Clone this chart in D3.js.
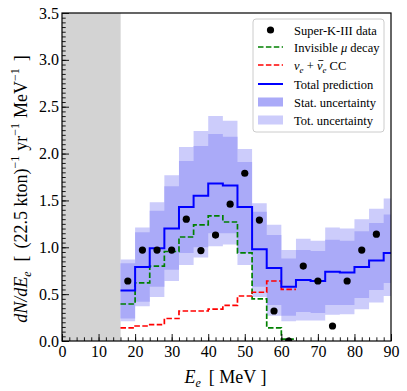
<!DOCTYPE html>
<html>
<head>
<meta charset="utf-8">
<script src="https://cdn.jsdelivr.net/npm/d3@7"></script>
<style>
  body { margin: 0; background: #fff; }
  svg text { font-family: "Liberation Serif", "DejaVu Serif", serif; }
</style>
</head>
<body>
<svg id="chart" width="407" height="391"></svg>
<script>
// Bin edges in MeV (4 MeV bins, last one runs past the axis limit)
const binEdges = [16, 20, 24, 28, 32, 36, 40, 44, 48, 52, 56, 60, 64, 68, 72, 76, 80, 84, 88, 92];

const totalPred = [0.54, 0.79, 0.99, 1.20, 1.43, 1.55, 1.68, 1.66, 1.43, 0.98, 0.78, 0.58, 0.65, 0.64, 0.74, 0.73, 0.79, 0.86, 0.94];
const statHi = [0.83, 1.16, 1.39, 1.65, 1.92, 2.08, 2.21, 2.18, 1.91, 1.38, 1.13, 0.88, 0.97, 0.96, 1.08, 1.07, 1.17, 1.26, 1.35];
const statLo = [0.24, 0.42, 0.58, 0.76, 0.94, 1.00, 1.15, 1.15, 0.94, 0.58, 0.385, 0.27, 0.31, 0.30, 0.385, 0.385, 0.46, 0.545, 0.62];
const totHi = [0.87, 1.21, 1.48, 1.77, 2.07, 2.24, 2.40, 2.35, 2.05, 1.47, 1.24, 0.97, 1.09, 1.07, 1.21, 1.20, 1.30, 1.41, 1.52];
const totLo = [0.21, 0.37, 0.47, 0.64, 0.81, 0.89, 1.01, 1.03, 0.81, 0.47, 0.27, 0.21, 0.22, 0.22, 0.28, 0.285, 0.34, 0.41, 0.48];

// components (bins from 16 to 64)
const muDecay = [0.395, 0.62, 0.80, 0.955, 1.11, 1.24, 1.335, 1.27, 0.94, 0.45, 0.14, 0.02];
const nueCC = [0.14, 0.16, 0.175, 0.24, 0.32, 0.32, 0.34, 0.38, 0.48, 0.52, 0.64, 0.55];

// Super-K-III data at bin centres
const dataE = [18, 22, 26, 30, 34, 38, 42, 46, 50, 54, 58, 62, 66, 70, 74, 78, 82, 86];
const dataN = [0.64, 0.97, 0.97, 0.97, 1.30, 0.965, 1.13, 1.46, 1.79, 1.29, 0.32, 0.0, 0.80, 0.64, 0.16, 0.64, 0.97, 1.14];

const cutE = 16;
const xTicks = [0, 10, 20, 30, 40, 50, 60, 70, 80, 90];
const yTicks = [0, 0.5, 1.0, 1.5, 2.0, 2.5, 3.0, 3.5];

const width = 407, height = 391;
const margin = { top: 13, right: 16, bottom: 50, left: 62 };
const iw = width - margin.left - margin.right;
const ih = height - margin.top - margin.bottom;

const colors = {
  stat: "#aaaaf8",
  tot: "#ccccfb",
  total: "#0000ff",
  mu: "#008000",
  cc: "#ff0000",
  veto: "#d3d3d3",
};

const svg = d3.select("#chart");
const g = svg.append("g").attr("transform", `translate(${margin.left},${margin.top})`);

const x = d3.scaleLinear().domain([0, 90]).range([0, iw]);
const y = d3.scaleLinear().domain([0, 3.5]).range([ih, 0]);

svg.append("defs").append("clipPath").attr("id", "plotClip")
  .append("rect").attr("width", iw).attr("height", ih);

const plot = g.append("g").attr("clip-path", "url(#plotClip)");

// excluded low-energy region
plot.append("rect")
  .attr("x", x(0)).attr("y", 0)
  .attr("width", x(cutE) - x(0)).attr("height", ih)
  .attr("fill", colors.veto);
plot.append("line")
  .attr("x1", x(cutE)).attr("x2", x(cutE)).attr("y1", 0).attr("y2", ih)
  .attr("stroke", "#e2e2e2").attr("stroke-width", 1);

// step helpers
function stepPoints(vals) {
  const pts = vals.map((v, i) => [binEdges[i], v]);
  pts.push([binEdges[vals.length], vals[vals.length - 1]]);
  return pts;
}
const stepLine = d3.line().x(d => x(d[0])).y(d => y(d[1])).curve(d3.curveStepAfter);
function bandPoints(lo, hi) {
  return lo.map((v, i) => ({ e: binEdges[i], lo: v, hi: hi[i] }))
    .concat([{ e: binEdges[lo.length], lo: lo[lo.length - 1], hi: hi[hi.length - 1] }]);
}
const stepArea = d3.area().x(d => x(d.e)).y0(d => y(d.lo)).y1(d => y(d.hi)).curve(d3.curveStepAfter);

plot.append("path").attr("d", stepArea(bandPoints(totLo, totHi))).attr("fill", colors.tot);
plot.append("path").attr("d", stepArea(bandPoints(statLo, statHi))).attr("fill", colors.stat);

plot.append("path").attr("d", stepLine(stepPoints(muDecay)))
  .attr("fill", "none").attr("stroke", colors.mu).attr("stroke-width", 1.7)
  .attr("stroke-dasharray", "5.5,2.4");
plot.append("path").attr("d", stepLine(stepPoints(nueCC)))
  .attr("fill", "none").attr("stroke", colors.cc).attr("stroke-width", 1.7)
  .attr("stroke-dasharray", "5.5,2.4");
plot.append("path").attr("d", stepLine(stepPoints(totalPred)))
  .attr("fill", "none").attr("stroke", colors.total).attr("stroke-width", 2);

plot.selectAll("circle.data")
  .data(dataE.map((e, i) => [e, dataN[i]]))
  .enter().append("circle")
  .attr("class", "data")
  .attr("cx", d => x(d[0])).attr("cy", d => y(d[1]))
  .attr("r", 3.6).attr("fill", "#000");

// axes (ticks pointing inward)
g.append("g").attr("transform", `translate(0,${ih})`)
  .call(d3.axisBottom(x).tickValues(xTicks).tickFormat(d3.format("d")).tickSize(-7).tickPadding(5));
g.append("g").attr("transform", `translate(0,${ih})`)
  .call(d3.axisBottom(x).tickValues(d3.range(0, 91, 2)).tickFormat("").tickSize(-3.7));

g.append("g")
  .call(d3.axisLeft(y).tickValues(yTicks).tickFormat(d3.format(".1f")).tickSize(-7).tickPadding(3));
g.append("g")
  .call(d3.axisLeft(y).tickValues(d3.range(0, 70).map(i => i * 0.05)).tickFormat("").tickSize(-3.7));

g.selectAll(".domain").remove();
g.selectAll(".tick line").attr("stroke", "#000").attr("stroke-width", 0.9);
g.selectAll(".tick text").attr("font-size", 16).attr("fill", "#000")
  .style("font-family", '"Liberation Serif", serif');

// frame
g.append("rect").attr("width", iw).attr("height", ih)
  .attr("fill", "none").attr("stroke", "#000").attr("stroke-width", 1.2);

// axis labels
const xl = svg.append("text")
  .attr("x", margin.left + iw / 2 - 1).attr("y", 383)
  .attr("text-anchor", "middle").attr("font-size", 18);
xl.append("tspan").attr("font-style", "italic").text("E");
xl.append("tspan").attr("font-style", "italic").attr("font-size", 12).attr("dy", 4).text("e");
xl.append("tspan").attr("dy", -4).attr("dx", 8).text("[ MeV ]");

const yl = svg.append("text")
  .attr("transform", `translate(27,${margin.top + 176}) rotate(-90)`)
  .attr("text-anchor", "middle").attr("font-size", 18);
yl.append("tspan").attr("font-style", "italic").text("dN/dE");
yl.append("tspan").attr("font-style", "italic").attr("font-size", 12).attr("dy", 4).text("e");
yl.append("tspan").attr("dy", -4).attr("dx", 10).text("[");
yl.append("tspan").attr("dx", 7).text("(22.5 kton)");
yl.append("tspan").attr("font-size", 12).attr("dy", -8).text("−1");
yl.append("tspan").attr("dy", 8).attr("dx", 5).text("yr");
yl.append("tspan").attr("font-size", 12).attr("dy", -8).text("−1");
yl.append("tspan").attr("dy", 8).attr("dx", 5).text("MeV");
yl.append("tspan").attr("font-size", 12).attr("dy", -8).text("−1");
yl.append("tspan").attr("dy", 8).attr("dx", 7).text("]");

// legend
const legend = svg.append("g").attr("transform", "translate(253,19)");
legend.append("rect").attr("width", 131).attr("height", 113).attr("rx", 3)
  .attr("fill", "#fff").attr("fill-opacity", 0.85)
  .attr("stroke", "#cccccc").attr("stroke-width", 1);

const rowY = [11, 28, 46, 65, 83, 101];
const hx0 = 5, hx1 = 30, tx = 41;
const fs = 12.5;

legend.append("circle").attr("cx", (hx0 + hx1) / 2).attr("cy", rowY[0]).attr("r", 3.6).attr("fill", "#000");
legend.append("line").attr("x1", hx0).attr("x2", hx1).attr("y1", rowY[1]).attr("y2", rowY[1])
  .attr("stroke", colors.mu).attr("stroke-width", 1.7).attr("stroke-dasharray", "5.5,2.4");
legend.append("line").attr("x1", hx0).attr("x2", hx1).attr("y1", rowY[2]).attr("y2", rowY[2])
  .attr("stroke", colors.cc).attr("stroke-width", 1.7).attr("stroke-dasharray", "5.5,2.4");
legend.append("line").attr("x1", hx0).attr("x2", hx1).attr("y1", rowY[3]).attr("y2", rowY[3])
  .attr("stroke", colors.total).attr("stroke-width", 2);
legend.append("rect").attr("x", hx0).attr("y", rowY[4] - 4.5).attr("width", hx1 - hx0).attr("height", 9)
  .attr("fill", colors.stat);
legend.append("rect").attr("x", hx0).attr("y", rowY[5] - 4.5).attr("width", hx1 - hx0).attr("height", 9)
  .attr("fill", colors.tot);

function legendText(i) {
  return legend.append("text").attr("x", tx).attr("y", rowY[i] + 4.5).attr("font-size", fs);
}
legendText(0).text("Super-K-III data");
const t1 = legendText(1);
t1.append("tspan").text("Invisible ");
t1.append("tspan").attr("font-style", "italic").text("μ");
t1.append("tspan").text(" decay");
const t2 = legendText(2);
t2.append("tspan").attr("font-style", "italic").text("ν");
t2.append("tspan").attr("font-style", "italic").attr("font-size", 9).attr("dy", 3).text("e");
t2.append("tspan").attr("dy", -3).text(" + ");
const nuBar = t2.append("tspan").attr("font-style", "italic").text("ν");
t2.append("tspan").attr("font-style", "italic").attr("font-size", 9).attr("dy", 3).text("e");
t2.append("tspan").attr("dy", -3).text(" CC");

// bar over the anti-neutrino symbol
const nb = nuBar.node().getBBox();
legend.append("line")
  .attr("x1", nb.x + 1.5).attr("x2", nb.x + nb.width + 0.5)
  .attr("y1", rowY[2] - 4.5).attr("y2", rowY[2] - 4.5)
  .attr("stroke", "#000").attr("stroke-width", 0.8);

legendText(3).text("Total prediction");
legendText(4).text("Stat. uncertainty");
legendText(5).text("Tot. uncertainty");
</script>
</body>
</html>
